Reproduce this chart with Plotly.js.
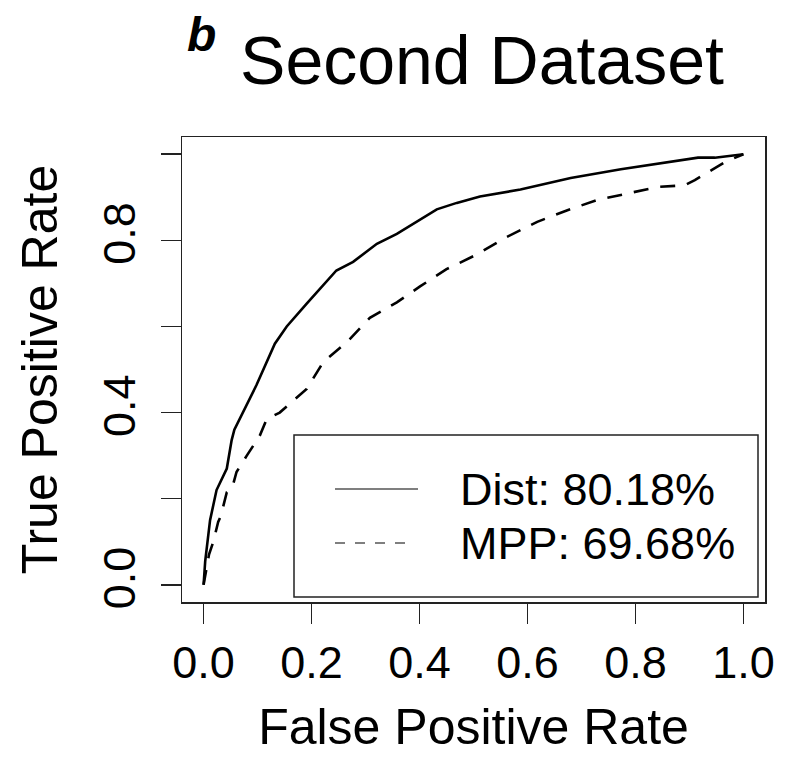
<!DOCTYPE html>
<html>
<head>
<meta charset="utf-8">
<script src="https://cdn.plot.ly/plotly-3.0.1.min.js"></script>
<style>html,body{margin:0;padding:0;background:#fff;}#chart{width:792px;height:757px;}</style>
</head>
<body>
<div id="chart"></div>
<script>
// ---- data ----
const seriesNames = ["Dist", "MPP"];
const aucLabels = ["80.18%", "69.68%"];
const distFPR = [0, 0.003, 0.012, 0.024, 0.043, 0.052, 0.057, 0.08, 0.098, 0.132, 0.154, 0.191, 0.216, 0.246, 0.277, 0.321, 0.358, 0.401, 0.432, 0.469, 0.494, 0.512, 0.587, 0.68, 0.773, 0.867, 0.916, 0.947, 1];
const distTPR = [0, 0.055, 0.15, 0.22, 0.27, 0.336, 0.36, 0.418, 0.464, 0.56, 0.6, 0.653, 0.688, 0.73, 0.75, 0.792, 0.815, 0.848, 0.872, 0.887, 0.895, 0.902, 0.918, 0.945, 0.965, 0.983, 0.992, 0.992, 1];
const mppFPR = [0, 0.01, 0.018, 0.027, 0.032, 0.043, 0.053, 0.061, 0.08, 0.104, 0.117, 0.141, 0.191, 0.222, 0.265, 0.308, 0.358, 0.401, 0.45, 0.506, 0.562, 0.618, 0.674, 0.73, 0.786, 0.842, 0.891, 0.91, 0.941, 0.966, 1];
const mppTPR = [0, 0.07, 0.1, 0.146, 0.16, 0.215, 0.225, 0.262, 0.3, 0.346, 0.385, 0.4, 0.455, 0.518, 0.563, 0.62, 0.656, 0.693, 0.733, 0.767, 0.808, 0.843, 0.87, 0.894, 0.909, 0.924, 0.928, 0.94, 0.963, 0.982, 1];
const xTickVals = [0, 0.2, 0.4, 0.6, 0.8, 1.0];
const xTickText = ["0.0", "0.2", "0.4", "0.6", "0.8", "1.0"];
const yTickVals = [0, 0.2, 0.4, 0.6, 0.8, 1.0];
const yTickText = ["0.0", "", "0.4", "", "0.8", ""];
const panelLetter = "b";
const chartTitle = "Second Dataset";
const xTitle = "False Positive Rate";
const yTitle = "True Positive Rate";

// ---- chart ----
const FONT = "Liberation Sans, Arial, Helvetica, sans-serif";
const lineDash = ["solid", "15px,12px"];
const traces = [
  {x: distFPR, y: distTPR, name: seriesNames[0], mode: "lines", line: {color: "#000", width: 2.6, dash: lineDash[0]}, showlegend: false},
  {x: mppFPR, y: mppTPR, name: seriesNames[1], mode: "lines", line: {color: "#000", width: 2.6, dash: lineDash[1]}, showlegend: false}
];

// plot area in pixels: left 182, right 765, top 137, bottom 602
const L = 182, R = 765, T = 137, B = 602;
const px = v => (v - L) / (R - L);
const py = v => (B - v) / (B - T);

const legendRows = [489, 543];
const shapes = [
  {type: "rect", xref: "paper", yref: "paper", x0: px(294), x1: px(758), y0: py(597), y1: py(435),
   line: {color: "#222", width: 1.5}, fillcolor: "rgba(0,0,0,0)"},
  {type: "line", xref: "paper", yref: "paper", x0: px(335), x1: px(418), y0: py(legendRows[0]), y1: py(legendRows[0]),
   line: {color: "#555", width: 1.6, dash: "solid"}},
  {type: "line", xref: "paper", yref: "paper", x0: px(335), x1: px(406), y0: py(legendRows[1]), y1: py(legendRows[1]),
   line: {color: "#555", width: 1.6, dash: "10px,10px"}}
];

const annotations = [
  {text: "<b><i>" + panelLetter + "</i></b>", xref: "paper", yref: "paper", x: px(201), y: py(34),
   xanchor: "center", yanchor: "middle", showarrow: false, font: {family: FONT, size: 48, color: "#000"}},
  {text: seriesNames[0] + ": " + aucLabels[0], xref: "paper", yref: "paper", x: px(458), y: py(legendRows[0]),
   xanchor: "left", yanchor: "middle", showarrow: false, font: {family: FONT, size: 45, color: "#000"}},
  {text: seriesNames[1] + ": " + aucLabels[1], xref: "paper", yref: "paper", x: px(458), y: py(legendRows[1]),
   xanchor: "left", yanchor: "middle", showarrow: false, font: {family: FONT, size: 45, color: "#000"}}
];

const layout = {
  width: 792, height: 757,
  margin: {l: L, r: 792 - R, t: T, b: 757 - B, pad: 0},
  paper_bgcolor: "#fff", plot_bgcolor: "#fff",
  font: {family: FONT, color: "#000"},
  title: {text: chartTitle, font: {family: FONT, size: 68, color: "#000"},
          xref: "container", yref: "container", x: 482 / 792, y: 1 - 60 / 757, xanchor: "center", yanchor: "middle"},
  xaxis: {
    range: [-0.04, 1.04], showgrid: false, zeroline: false,
    showline: true, mirror: true, linecolor: "#222", linewidth: 1.5,
    ticks: "outside", ticklen: 20, tickwidth: 1.5, tickcolor: "#222",
    tickmode: "array", tickvals: xTickVals, ticktext: xTickText,
    tickfont: {family: FONT, size: 45, color: "#000"},
    title: {text: xTitle, font: {family: FONT, size: 50, color: "#000"}, standoff: 22}
  },
  yaxis: {
    range: [-0.04, 1.04], showgrid: false, zeroline: false,
    showline: true, mirror: true, linecolor: "#222", linewidth: 1.5,
    ticks: "outside", ticklen: 20, tickwidth: 1.5, tickcolor: "#222",
    tickmode: "array", tickvals: yTickVals, ticktext: yTickText, tickangle: -90,
    ticklabelstandoff: 8,
    tickfont: {family: FONT, size: 45, color: "#000"},
    title: {text: yTitle, font: {family: FONT, size: 50, color: "#000"}, standoff: 20}
  },
  shapes: shapes,
  annotations: annotations,
  showlegend: false
};

Plotly.newPlot("chart", traces, layout, {staticPlot: true, displayModeBar: false});
</script>
</body>
</html>
